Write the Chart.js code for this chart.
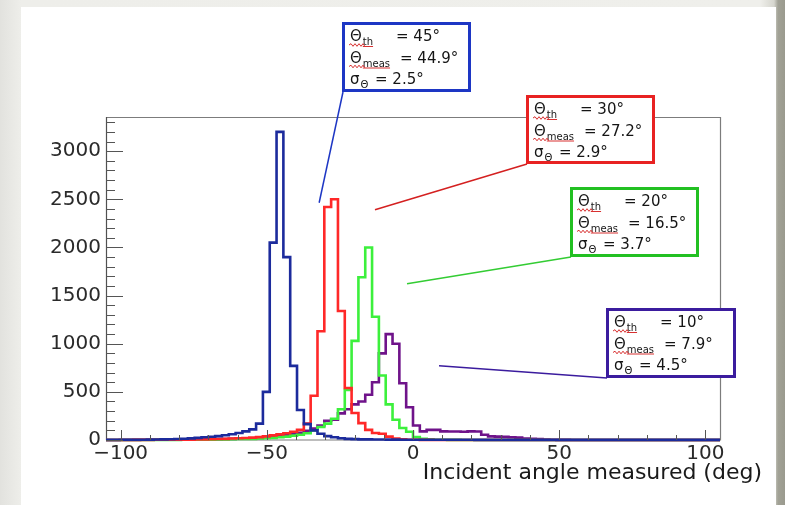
<!DOCTYPE html>
<html><head><meta charset="utf-8">
<script src="https://cdn.jsdelivr.net/npm/chart.js@4.4.0/dist/chart.umd.min.js"></script>
<style>
html,body{margin:0;padding:0;}
body{width:785px;height:505px;overflow:hidden;position:relative;
 background:linear-gradient(90deg,#e2e2de 0px,#eeeeea 21px,#efefeb 760px,#d6d6ce 774px,#a2a296 778px,#9a9a8e 785px);}
#card{position:absolute;left:21px;top:7px;width:755px;height:498px;background:#fff;}
canvas{position:absolute;left:0;top:0;}
</style></head><body>
<div id="card"></div>
<canvas id="c" width="785" height="505"></canvas>
<script>
// ---- data ----
const BIN_LO = -105, BIN_HI = 105;           // histogram range (deg), 90 bins
const seriesNames = ['45°', '30°', '20°', '10°'];
const blueCounts = [
 1,1,2,2,3,3,4,5,6,8,
 10,13,17,22,28,33,40,50,60,72,
 90,110,170,500,2050,3200,1900,770,312,165,
 100,65,40,28,18,12,9,7,6,5,
 5,4,4,3,3,3,3,2,2,2,
 2,2,2,2,1,1,1,1,1,1,
 1,1,1,1,1,1,1,1,1,1,
 1,1,1,1,1,1,1,1,1,1,
 1,1,1,1,1,1,1,1,1,1];
const redCounts = [
 0,0,0,0,1,1,1,2,2,2,
 3,3,4,5,6,8,10,12,15,18,
 20,25,30,38,48,58,70,85,105,170,
 460,1130,2420,2500,1340,540,280,175,105,72,
 65,35,15,6,3,2,1,1,0,0,
 0,0,0,0,0,0,0,0,0,0,
 0,0,0,0,0,0,0,0,0,0,
 0,0,0,0,0,0,0,0,0,0,
 0,0,0,0,0,0,0,0,0,0];
const greenCounts = [
 0,0,0,0,0,0,0,1,1,1,
 1,2,2,3,3,4,5,6,8,10,
 10,12,15,18,22,28,35,45,55,70,
 100,135,170,220,320,520,1030,1690,2000,1280,
 670,370,210,125,85,30,12,6,3,2,
 1,1,0,0,0,0,0,0,0,0,
 0,0,0,0,0,0,0,0,0,0,
 0,0,0,0,0,0,0,0,0,0,
 0,0,0,0,0,0,0,0,0,0];
const purpleCounts = [
 0,0,1,1,1,2,2,2,3,3,
 4,4,5,6,7,8,9,10,12,14,
 16,18,22,26,32,40,50,60,75,95,
 120,150,200,210,277,320,370,400,470,600,
 900,1100,1000,590,340,150,90,105,105,90,
 88,88,85,90,88,55,38,35,32,28,
 25,15,12,10,4,2,1,1,0,0,
 0,0,0,0,0,0,0,0,0,0,
 0,0,0,0,0,0,0,0,0,0];
const xTickValues = [-100, -50, 0, 50, 100];
const yTickValues = [0, 500, 1000, 1500, 2000, 2500, 3000];
const thetaTh   = [45, 30, 20, 10];
const thetaMeas = [44.9, 27.2, 16.5, 7.9];
const sigmaTh   = [2.5, 2.9, 3.7, 4.5];
const xTitle = 'Incident angle measured (deg)';

// ---- styling ----
const FONT = '"DejaVu Sans", "Liberation Sans", sans-serif';
const histColors = ['#1c2b9c', '#ff2828', '#3cf03c', '#6f138a'];
const boxColors  = ['#1d36c4', '#e82222', '#22c022', '#3b1c9e'];
const lineColors = ['#1d36c4', '#d42020', '#33cc33', '#3b1c9e'];
// annotation boxes (pixel layout) and leader-line tips (data space)
const boxes = [
  {x:342, y:22,  w:129, h:70},
  {x:526, y:95,  w:129, h:69},
  {x:570, y:187, w:129, h:70},
  {x:606, y:308, w:130, h:70}
];
const tips = [ {x:-32.1, y:2464}, {x:-13.0, y:2391}, {x:-2.05, y:1622}, {x:8.9, y:770} ];

function histPoints(counts){
  const w = (BIN_HI - BIN_LO) / counts.length;
  const pts = [{x: BIN_LO, y: counts[0]}];
  counts.forEach((c, k) => pts.push({x: BIN_LO + (k + 1) * w, y: c}));
  return pts;
}
function fmt(v){ return v < 0 ? '\u2212' + Math.abs(v) : String(v); }

const allCounts = [blueCounts, redCounts, greenCounts, purpleCounts];
const datasets = allCounts.map((c, i) => ({
  label: seriesNames[i],
  data: histPoints(c),
  borderColor: histColors[i],
  borderWidth: 2.6,
  stepped: 'after',
  pointRadius: 0,
  fill: false,
  clip: false,
  order: i
}));

const frameAndTicks = {
  id: 'frameAndTicks',
  beforeDatasetsDraw(chart){
    const {ctx, chartArea: a} = chart;
    ctx.save();
    ctx.lineWidth = 1.2;
    ctx.strokeStyle = '#7c7c7c';
    ctx.beginPath();
    ctx.moveTo(a.left, a.top + 0.5); ctx.lineTo(a.right + 0.5, a.top + 0.5);
    ctx.lineTo(a.right + 0.5, a.bottom); ctx.lineTo(a.left, a.bottom);
    ctx.stroke();
    ctx.strokeStyle = '#505050';
    ctx.beginPath(); ctx.moveTo(a.left + 0.5, a.top); ctx.lineTo(a.left + 0.5, a.bottom); ctx.stroke();
    ctx.restore();
  },
  afterDatasetsDraw(chart){
    const {ctx, chartArea: a, scales: {x, y}} = chart;
    ctx.save();
    ctx.lineWidth = 1;
    ctx.strokeStyle = '#555';
    ctx.beginPath();
    for (let v = 0; v <= y.max; v += 100) {
      const py = Math.round(y.getPixelForValue(v)) + 0.5;
      const len = v % 500 === 0 ? 17 : 9;
      ctx.moveTo(a.left, py); ctx.lineTo(a.left + len, py);
    }
    for (let v = -100; v <= 100; v += 10) {
      const px = Math.round(x.getPixelForValue(v)) + 0.5;
      const len = v % 50 === 0 ? 10 : 5;
      ctx.moveTo(px, a.bottom); ctx.lineTo(px, a.bottom - len);
    }
    ctx.stroke();
    ctx.restore();
  }
};

function squiggle(ctx, x1, x2, yy){
  ctx.beginPath();
  let up = true;
  ctx.moveTo(x1, yy);
  for (let xx = x1; xx < x2; xx += 2) {
    ctx.lineTo(Math.min(xx + 2, x2), yy + (up ? -1.3 : 1.3));
    up = !up;
  }
  ctx.stroke();
}

const annotations = {
  id: 'annotations',
  afterDraw(chart){
    const {ctx, scales: {x, y}} = chart;
    ctx.save();
    boxes.forEach((b, i) => {
      ctx.strokeStyle = lineColors[i];
      ctx.lineWidth = 1.5;
      ctx.beginPath();
      ctx.moveTo(b.x + 1, b.y + b.h);
      ctx.lineTo(x.getPixelForValue(tips[i].x), y.getPixelForValue(tips[i].y));
      ctx.stroke();
      ctx.fillStyle = '#fff';
      ctx.fillRect(b.x, b.y, b.w, b.h);
      ctx.strokeStyle = boxColors[i];
      ctx.lineWidth = 3;
      ctx.strokeRect(b.x + 1.5, b.y + 1.5, b.w - 3, b.h - 3);
      const x0 = b.x + 8;
      ctx.textBaseline = 'alphabetic';
      ctx.textAlign = 'left';
      const big = '15px ' + FONT, small = '10px ' + FONT;
      const lines = [
        {sym:'Θ', sub:'th',   eq:'= ' + thetaTh[i] + '°',              eqX: b.x + 54, wavy:true},
        {sym:'Θ', sub:'meas', eq:'= ' + thetaMeas[i].toFixed(1) + '°', eqX: b.x + 58, wavy:true},
        {sym:'σ', sub:'Θ',    eq:'= ' + sigmaTh[i].toFixed(1) + '°',   eqX: b.x + 33, wavy:false}
      ];
      lines.forEach((ln, j) => {
        const base = b.y + 19 + j * 21.5;
        ctx.font = big;
        ctx.fillStyle = '#151515';
        ctx.fillText(ln.sym, x0, base);
        const ws = ctx.measureText(ln.sym).width;
        ctx.font = small;
        const subX = x0 + ws + 1;
        ctx.fillText(ln.sub, subX, base + 4);
        const wsub = ctx.measureText(ln.sub).width;
        if (ln.wavy) {
          ctx.strokeStyle = '#d83030';
          ctx.lineWidth = 1;
          squiggle(ctx, x0 - 1, subX + 2, base + 4);
          ctx.beginPath(); ctx.moveTo(subX, base + 5.5); ctx.lineTo(subX + wsub, base + 5.5); ctx.stroke();
        }
        ctx.font = big;
        ctx.fillStyle = '#151515';
        ctx.fillText(ln.eq, ln.eqX, base);
      });
    });
    ctx.font = '22px ' + FONT;
    ctx.fillStyle = '#1a1a1a';
    ctx.textAlign = 'right';
    ctx.fillText(xTitle, 762, 479);
    ctx.restore();
  }
};

new Chart(document.getElementById('c'), {
  type: 'line',
  data: { datasets },
  options: {
    responsive: false,
    animation: false,
    events: [],
    layout: { padding: { left: 0, top: 117, right: 65, bottom: 0 } },
    plugins: { legend: { display: false }, tooltip: { enabled: false } },
    scales: {
      x: {
        type: 'linear', min: BIN_LO, max: BIN_HI,
        afterBuildTicks: s => { s.ticks = xTickValues.map(v => ({value: v})); },
        afterFit: s => { s.height = 65; },
        grid: { display: false, drawTicks: false },
        border: { display: false },
        ticks: { callback: v => fmt(v), font: { family: FONT, size: 20 }, color: '#2a2a2a', padding: 2, maxRotation: 0, autoSkip: false }
      },
      y: {
        type: 'linear', min: 0, max: 3355,
        afterBuildTicks: s => { s.ticks = yTickValues.map(v => ({value: v})); },
        afterFit: s => { s.width = 106; },
        grid: { display: false, drawTicks: false },
        border: { display: false },
        ticks: { callback: v => fmt(v), font: { family: FONT, size: 20 }, color: '#2a2a2a', padding: 5, autoSkip: false }
      }
    }
  },
  plugins: [frameAndTicks, annotations]
});
</script></body></html>
